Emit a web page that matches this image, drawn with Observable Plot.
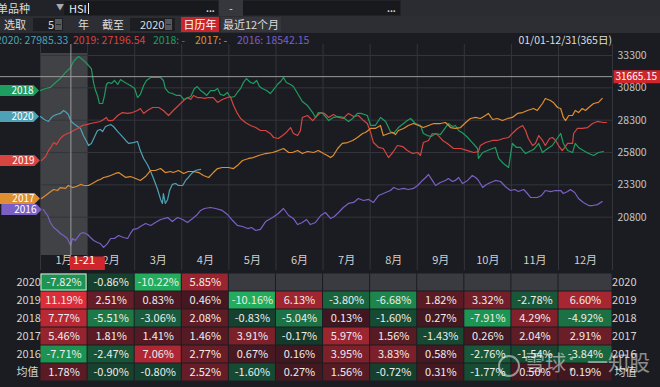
<!DOCTYPE html>
<html><head><meta charset="utf-8">
<script src="https://cdn.jsdelivr.net/npm/d3@7"></script>
<script src="https://cdn.jsdelivr.net/npm/@observablehq/plot@0.6"></script>
<style>
body{margin:0;background:#1b1c21;width:660px;height:387px;overflow:hidden;position:relative;font-family:"Noto Sans CJK SC","Noto Sans",sans-serif;}
.abs{position:absolute;white-space:nowrap;}
.t{font-size:11px;color:#dcdcdc;}
.spin{position:absolute;width:7px;height:11px;background:#56575c;}
.spin:after{content:"";position:absolute;left:1px;right:1px;top:5px;height:1px;background:#2a2b30;}
#chart,#table{position:absolute;left:0;}
#chart{top:44px;}#table{top:270px;}
</style></head><body>
<!-- row 1 -->
<div class="abs" style="left:0;top:0;width:660px;height:16px;background:#222328"></div>
<div class="abs" style="left:64px;top:1px;width:154px;height:14px;background:#18191d"></div>
<div class="abs" style="left:219px;top:0;width:24px;height:16px;background:#36373c"></div>
<div class="abs" style="left:243px;top:1px;width:157px;height:14px;background:#18191d"></div>
<div class="abs" style="left:401px;top:0;width:259px;height:16px;background:#2b2c31"></div>
<div class="abs t" style="left:-3px;top:0;line-height:16px">单品种</div>
<div class="abs t" style="left:56px;top:0;line-height:14px;font-size:8px;color:#aaa">▼</div>
<div class="abs t" style="left:69px;top:0;line-height:16px;color:#eee">HSI<span style="display:inline-block;width:1px;height:11px;background:#eee;margin-left:1px;vertical-align:-1px"></span></div>
<div class="abs t" style="left:206px;top:2px;line-height:14px;font-size:9px;font-weight:bold">...</div>
<div class="abs t" style="left:229px;top:0;line-height:16px">-</div>
<div class="abs t" style="left:387px;top:2px;line-height:14px;font-size:9px;font-weight:bold">...</div>
<!-- row 2 -->
<div class="abs" style="left:0;top:16px;width:660px;height:17px;background:#2d2e33"></div>
<div class="abs t" style="left:4px;top:16px;line-height:17px">选取</div>
<div class="abs" style="left:33px;top:18px;width:30px;height:13px;background:#1d1e22"></div>
<div class="abs t" style="left:48px;top:16px;line-height:17px">5</div>
<div class="spin" style="left:55px;top:19px"></div>
<div class="abs t" style="left:78px;top:16px;line-height:17px">年</div>
<div class="abs t" style="left:102px;top:16px;line-height:17px">截至</div>
<div class="abs" style="left:130px;top:18px;width:45px;height:13px;background:#1d1e22"></div>
<div class="abs t" style="left:140px;top:16px;line-height:17px">2020</div>
<div class="spin" style="left:165px;top:19px"></div>
<div class="abs t" style="left:181px;top:17px;width:38px;height:15px;line-height:15px;background:#c8252c;color:#fff;text-align:center">日历年</div>
<div class="abs t" style="left:221px;top:17px;width:60px;height:15px;line-height:15px;background:#35363b;text-align:center">最近12个月</div>
<!-- row 3 legend -->
<div class="abs" style="left:0;top:33px;width:660px;height:12px;background:#1b1c21"></div>
<div id="legend"></div>
<div id="chart"></div>
<div id="table"></div>
<!-- watermark -->
<div class="abs" style="left:498px;top:355px;width:18px;height:18px;border:2px solid rgba(255,255,255,0.5);border-radius:50%"></div>
<div class="abs" style="left:524px;top:347px;font-size:21px;line-height:28px;color:rgba(255,255,255,0.5)">雪球：一知股</div>
<script>
// ---------- data ----------
const months = ["1月","2月","3月","4月","5月","6月","7月","8月","9月","10月","11月","12月"];
const years = ["2020","2019","2018","2017","2016"];
const yearColors = ["#4fa2b6","#d8443f","#1f9c60","#df8e31","#7b5fc4"];
const legendValues = ["27985.33","27196.54","-","-","18542.15"];
const yTicks = [20800,23300,25800,28300,30800,33300];
const crossMonthT = 20/31;          // Jan 21
const crossLabel = "1-21";
const crossValue = 31665.15;
const selectedMonth = 0;
const rangeLabel = "01/01-12/31(365日)";

// [month position, index level]
const s2020 = [[0,28580],[.08,28350],[.17,28200],[.25,28580],[.34,28740],[.42,28820],[.49,29050],[.55,28890],[.59,28740],[.64,28270],[.70,28040],[.79,27810],[.85,27660],[.91,27110],[.98,26650],[1.02,26340],[1.08,26500],[1.15,27040],[1.21,27500],[1.27,27580],[1.32,27420],[1.38,27810],[1.49,27970],[1.55,27810],[1.64,27420],[1.72,27110],[1.81,26730],[1.87,26500],[1.97,26570],[2.06,26650],[2.12,25950],[2.19,25340],[2.27,24870],[2.34,24330],[2.40,23790],[2.48,23020],[2.55,22170],[2.59,21860],[2.61,22630],[2.65,21860],[2.70,22170],[2.74,22860],[2.80,23330],[2.87,23400],[2.93,23250],[3.02,23250],[3.08,23640],[3.14,23870],[3.21,24180],[3.29,24410],[3.40,24490]];
const s2019 = [[.02,25180],[.11,25490],[.17,25950],[.23,26260],[.28,26570],[.34,26420],[.42,26880],[.49,27110],[.57,27270],[.64,27350],[.70,27500],[.79,27660],[.89,27890],[1.00,27970],[1.06,28040],[1.17,28120],[1.27,28200],[1.34,28350],[1.40,28510],[1.44,28270],[1.53,28270],[1.64,28660],[1.74,28890],[1.85,28820],[1.95,28890],[2.06,29050],[2.12,29200],[2.19,28820],[2.27,29050],[2.38,29280],[2.51,29280],[2.61,29050],[2.72,28660],[2.82,29050],[2.93,29430],[3.04,29820],[3.12,30050],[3.19,29900],[3.25,30210],[3.33,30050],[3.40,30050],[3.48,29980],[3.57,30050],[3.67,30050],[3.76,29670],[3.86,29900],[3.97,30050],[4.03,30130],[4.10,29430],[4.18,28820],[4.25,28430],[4.35,28120],[4.46,27890],[4.57,27730],[4.67,27500],[4.78,27500],[4.88,27270],[4.95,26960],[5.05,26880],[5.14,27110],[5.22,27350],[5.31,27730],[5.37,27270],[5.46,27110],[5.52,27500],[5.56,28510],[5.67,28660],[5.78,28270],[5.88,28660],[5.95,28890],[6.03,28820],[6.12,28510],[6.22,28740],[6.33,28510],[6.43,28430],[6.54,28820],[6.65,28580],[6.75,28660],[6.86,28270],[6.94,28040],[7.01,27350],[7.07,26570],[7.18,26190],[7.28,26110],[7.39,25410],[7.48,25800],[7.58,26340],[7.69,26260],[7.79,25950],[7.90,25720],[8.01,25800],[8.07,25570],[8.13,26570],[8.24,26730],[8.32,27270],[8.43,27190],[8.54,26730],[8.64,26500],[8.77,26110],[8.92,26110],[9.07,25950],[9.20,25800],[9.30,25880],[9.34,26340],[9.45,26570],[9.60,26730],[9.70,26730],[9.83,26880],[9.94,26960],[10.04,27350],[10.13,27660],[10.24,27890],[10.30,27500],[10.36,26880],[10.45,26340],[10.51,26500],[10.58,27110],[10.66,26730],[10.72,26340],[10.81,26880],[10.87,26960],[10.94,26730],[11.00,26340],[11.07,25950],[11.17,26500],[11.26,26500],[11.28,27270],[11.35,27660],[11.44,27660],[11.54,27730],[11.63,28040],[11.72,28200],[11.83,28120],[11.89,28120]];
const s2018 = [[0,30590],[.11,30750],[.21,30830],[.32,31210],[.42,31520],[.53,31990],[.64,32370],[.70,32840],[.76,33070],[.81,33220],[.89,32990],[.96,32760],[1.02,32530],[1.08,32290],[1.13,31140],[1.17,30590],[1.21,30210],[1.25,29590],[1.32,29590],[1.36,30210],[1.40,31060],[1.44,31210],[1.51,31140],[1.57,31370],[1.64,31060],[1.70,31440],[1.76,31290],[1.83,31140],[1.91,30980],[2.00,30750],[2.06,30050],[2.12,30290],[2.19,30980],[2.25,31370],[2.34,31600],[2.44,31600],[2.55,31600],[2.61,31370],[2.65,30750],[2.72,30440],[2.80,30360],[2.89,30210],[2.97,30210],[3.04,29900],[3.10,29980],[3.19,30130],[3.27,30750],[3.33,30900],[3.40,30590],[3.46,30440],[3.53,30210],[3.61,30590],[3.70,30590],[3.76,30750],[3.82,30290],[3.89,30210],[3.97,30440],[4.03,30050],[4.12,30130],[4.18,30440],[4.25,30750],[4.31,31210],[4.37,31520],[4.46,31210],[4.52,31140],[4.59,31370],[4.65,30900],[4.71,30750],[4.80,30590],[4.88,30360],[4.97,30750],[5.03,31060],[5.10,31290],[5.16,31600],[5.22,31210],[5.31,31060],[5.37,30900],[5.46,30360],[5.56,29740],[5.67,29430],[5.78,28890],[5.84,28510],[5.90,28890],[5.99,28820],[6.05,28580],[6.12,28270],[6.22,28510],[6.33,28580],[6.43,28510],[6.54,28200],[6.63,28430],[6.73,28820],[6.80,28820],[6.88,28740],[6.94,28660],[7.01,27890],[7.11,27890],[7.22,28510],[7.33,28200],[7.43,27420],[7.50,27270],[7.60,27730],[7.71,28040],[7.79,28270],[7.86,28430],[7.96,28040],[8.07,27890],[8.13,27270],[8.22,27110],[8.30,27040],[8.39,27270],[8.49,27190],[8.60,27730],[8.66,28040],[8.75,27810],[8.81,27890],[8.88,27500],[8.98,27270],[9.07,26960],[9.17,26570],[9.28,26110],[9.30,25340],[9.39,25800],[9.49,25950],[9.60,26110],[9.66,26190],[9.73,25340],[9.83,24950],[9.94,24640],[10.02,26500],[10.11,26190],[10.19,26190],[10.30,25720],[10.38,25880],[10.47,26030],[10.51,26190],[10.58,26500],[10.66,25800],[10.77,26110],[10.87,26340],[10.94,26730],[11.04,27270],[11.09,26500],[11.17,25950],[11.26,25800],[11.31,26500],[11.37,26190],[11.46,25950],[11.56,25720],[11.65,25570],[11.74,25800],[11.83,25880]];
const s2017 = [[.02,22240],[.11,22480],[.19,22710],[.28,22940],[.36,22860],[.42,23090],[.53,23020],[.59,23250],[.68,23090],[.76,23170],[.85,23330],[.93,23250],[1.02,23250],[1.10,23400],[1.21,23640],[1.27,23710],[1.34,23870],[1.42,23940],[1.49,24020],[1.59,24180],[1.66,24250],[1.72,24100],[1.81,23870],[1.91,23940],[2.02,23790],[2.12,23640],[2.23,23940],[2.34,24410],[2.44,24410],[2.55,24560],[2.65,24250],[2.76,24330],[2.82,24250],[2.93,24410],[3.04,24180],[3.14,24330],[3.25,24330],[3.36,24250],[3.46,24020],[3.57,23870],[3.67,24250],[3.76,24560],[3.86,24640],[3.99,24640],[4.10,24560],[4.18,24790],[4.29,25180],[4.42,25340],[4.52,25410],[4.63,25570],[4.78,25720],[4.93,25800],[5.05,25950],[5.16,26110],[5.27,25800],[5.35,25800],[5.46,25950],[5.56,25720],[5.67,25880],[5.80,25800],[5.90,25950],[6.01,25720],[6.09,25570],[6.16,25410],[6.22,25570],[6.31,26110],[6.41,26500],[6.52,26570],[6.63,26730],[6.73,26960],[6.84,27270],[6.90,27350],[7.01,27660],[7.11,27660],[7.22,27890],[7.28,27110],[7.39,27270],[7.48,27350],[7.54,27190],[7.60,27500],[7.71,27660],[7.81,27890],[7.92,28040],[8.03,27890],[8.13,27730],[8.24,27890],[8.35,28040],[8.49,28040],[8.60,28120],[8.71,27730],[8.81,27660],[8.92,27730],[9.03,28120],[9.13,28430],[9.24,28510],[9.34,28430],[9.45,28660],[9.51,28820],[9.60,28350],[9.70,28430],[9.81,28270],[9.92,28430],[10.02,28510],[10.13,28820],[10.24,28890],[10.34,29050],[10.47,29200],[10.55,29050],[10.66,29590],[10.72,29980],[10.83,29820],[10.89,29670],[10.98,29280],[11.04,29200],[11.09,28510],[11.13,28270],[11.19,28660],[11.26,28660],[11.31,29050],[11.37,28890],[11.44,29200],[11.50,29050],[11.56,29280],[11.65,29590],[11.74,29670],[11.81,29980]];
const s2016 = [[.06,21390],[.15,20930],[.21,20390],[.28,20000],[.36,19770],[.42,19540],[.49,19380],[.57,19150],[.64,18610],[.68,19150],[.74,19000],[.85,19540],[.91,19610],[1.00,19460],[1.06,19230],[1.13,19000],[1.21,18840],[1.27,18760],[1.34,18460],[1.42,18760],[1.49,19150],[1.57,19150],[1.66,19380],[1.76,19230],[1.85,19150],[1.91,19540],[1.97,19850],[2.06,19920],[2.12,20080],[2.23,20310],[2.34,20160],[2.44,20390],[2.55,20620],[2.70,20770],[2.80,20460],[2.91,20770],[3.02,20620],[3.12,20390],[3.23,20700],[3.33,21010],[3.40,21320],[3.48,21470],[3.61,21550],[3.72,21470],[3.86,21320],[3.97,21010],[4.08,20540],[4.18,20160],[4.29,20080],[4.40,19920],[4.48,20000],[4.57,19770],[4.67,19850],[4.78,20460],[4.93,20770],[5.05,21080],[5.16,21470],[5.27,20930],[5.37,20700],[5.46,20230],[5.56,20390],[5.65,20620],[5.73,20230],[5.84,20390],[5.95,20930],[6.05,21160],[6.16,20700],[6.24,20850],[6.33,21160],[6.43,21550],[6.54,21860],[6.65,21940],[6.75,22240],[6.86,22090],[6.97,22170],[7.07,21940],[7.18,22480],[7.33,22710],[7.43,22860],[7.50,23090],[7.60,22940],[7.71,23020],[7.81,22940],[7.92,23020],[8.01,23250],[8.11,23640],[8.18,23870],[8.24,24100],[8.32,23640],[8.39,23250],[8.49,23480],[8.60,23640],[8.66,23790],[8.75,23560],[8.81,23640],[8.88,23870],[8.96,23400],[9.07,23640],[9.17,24020],[9.24,23870],[9.30,23640],[9.39,23090],[9.47,23330],[9.56,23480],[9.66,23640],[9.77,23560],[9.87,23170],[9.98,22860],[10.07,22940],[10.15,22780],[10.26,22940],[10.34,22630],[10.41,22320],[10.55,22320],[10.64,22480],[10.72,22860],[10.83,22780],[10.94,22860],[11.04,22860],[11.09,22630],[11.17,22780],[11.22,22940],[11.30,22710],[11.37,22240],[11.46,21930],[11.56,21700],[11.63,21700],[11.72,21770],[11.81,22010]];
const seriesPts = [s2020, s2019, s2018, s2017, s2016];

// monthly returns table (%)
const rowLabels = ["2020","2019","2018","2017","2016","均值"];
const r2020 = [-7.82,-0.86,-10.22,5.85,null,null,null,null,null,null,null,null];
const r2019 = [11.19,2.51,0.83,0.46,-10.16,6.13,-3.80,-6.68,1.82,3.32,-2.78,6.60];
const r2018 = [7.77,-5.51,-3.06,2.08,-0.83,-5.04,0.13,-1.60,0.27,-7.91,4.29,-4.92];
const r2017 = [5.46,1.81,1.41,1.46,3.91,-0.17,5.97,1.56,-1.43,0.26,2.04,2.91];
const r2016 = [-7.71,-2.47,7.06,2.77,0.67,0.16,3.95,3.83,0.58,-2.76,-1.54,-3.84];
const rMean = [1.78,-0.90,-0.80,2.52,-1.60,0.27,1.56,-0.72,0.31,-1.77,0.50,0.19];
const rowValues = [r2020, r2019, r2018, r2017, r2016, rMean];

// ---------- legend ----------
const legendPos = [-4, 73, 153, 195, 237];
const lg = document.getElementById("legend");
years.forEach((y,i)=>{
  const d = document.createElement("div");
  d.className = "abs";
  d.style.cssText = `left:${legendPos[i]}px;top:33px;line-height:13px;font-size:10.5px;color:${yearColors[i]}`;
  d.textContent = `${y}: ${legendValues[i]}`;
  lg.appendChild(d);
});
const rl = document.createElement("div");
rl.className = "abs";
rl.style.cssText = "right:48px;top:33px;line-height:13px;font-size:10.5px;color:#dedede";
rl.textContent = rangeLabel;
lg.appendChild(rl);

// ---------- chart ----------
const font = '"Noto Sans CJK SC","Noto Sans",sans-serif';
const lineData = years.flatMap((y,i)=>seriesPts[i].map(([t,v])=>({year:y,t,v})));
const starts = years.map((y,i)=>({year:y,t:seriesPts[i][0][0],v:seriesPts[i][0][1]}));
const tagShape = {draw(c){c.moveTo(-22,-5.5);c.lineTo(13,-5.5);c.lineTo(18.5,0);c.lineTo(13,5.5);c.lineTo(-22,5.5);c.closePath();}};
const priceShape = {draw(c){c.moveTo(1,-6.5);c.lineTo(48,-6.5);c.lineTo(48,6.5);c.lineTo(1,6.5);c.closePath();}};
const dateShape = {draw(c){c.moveTo(-1,1);c.lineTo(34,1);c.lineTo(34,15);c.lineTo(-1,15);c.closePath();}};
const xScale = {type:"linear", domain:[0,11,12], range:[40,558,612]};

const chart = Plot.plot({
  width:660, height:226, marginTop:9, marginBottom:15, marginLeft:40, marginRight:48,
  style:{background:"transparent", color:"#bdbdbd", fontFamily:font, overflow:"visible"},
  x:{...xScale, axis:null},
  y:{domain:[17836,33455], axis:null},
  color:{domain:years, range:yearColors},
  marks:[
    Plot.rect([selectedMonth],{x1:d=>d, x2:d=>d+1, fill:"#ffffff", fillOpacity:0.17}),
    Plot.ruleY(yTicks,{stroke:"#34353b", strokeWidth:1}),
    Plot.ruleX(d3.range(months.length+1),{stroke:"#34353b", strokeWidth:1, insetTop:-9, insetBottom:-15}),
    Plot.line(lineData,{x:"t", y:"v", z:"year", stroke:"year", strokeWidth:1.2}),
    Plot.ruleX([crossMonthT],{stroke:"#9a9a9a", strokeWidth:1, insetTop:-9}),
    Plot.ruleY([crossValue],{stroke:"#9a9a9a", strokeWidth:1, insetLeft:-40}),
    Plot.axisY(yTicks,{anchor:"right", tickSize:0, tickPadding:5, tickFormat:d=>String(d), fill:"#c4c4c4", fontSize:10.5, label:null}),
    Plot.text(months,{x:(d,i)=>i+0.5, text:d=>d, frameAnchor:"bottom", dy:8, fill:"#cfcfcf", fontSize:11}),
    Plot.dot([crossMonthT],{x:d=>d, frameAnchor:"bottom", symbol:dateShape, fill:"#cf262d", stroke:null}),
    Plot.text([crossMonthT],{x:d=>d, frameAnchor:"bottom", dy:8, dx:2, text:()=>crossLabel, textAnchor:"start", fill:"#ffffff", fontSize:11}),
    Plot.dot([crossValue],{y:d=>d, frameAnchor:"right", symbol:priceShape, fill:"#cf262d", stroke:null}),
    Plot.text([crossValue],{y:d=>d, frameAnchor:"right", dx:3, text:d=>d.toFixed(2), textAnchor:"start", fill:"#ffffff", fontSize:10}),
    Plot.dot(starts,{x:"t", y:"v", dx:-20, symbol:tagShape, fill:"year", stroke:null}),
    Plot.text(starts,{x:"t", y:"v", dx:-18, text:"year", fill:"#ffffff", fontSize:10})
  ]
});
document.getElementById("chart").appendChild(chart);

// ---------- table ----------
const cells = rowLabels.flatMap((r,ri)=>rowValues[ri].map((v,m)=>({row:r,m,v})));
const filled = cells.filter(d=>d.v!=null);
const empty = cells.filter(d=>d.v==null);
const table = Plot.plot({
  width:660, height:117, marginTop:2, marginBottom:5, marginLeft:40, marginRight:48,
  style:{background:"#1b1c21", color:"#d0d0d0", fontFamily:font},
  x:{...xScale, axis:null},
  y:{type:"band", domain:rowLabels, padding:0, axis:null},
  color:{type:"linear", domain:[-10,-0.001,0.001,10], range:["#21ad5d","#15372a","#3e1720","#dc2e3a"], clamp:true},
  marks:[
    Plot.barX(filled,{x1:"m", x2:d=>d.m+1, y:"row", fill:"v", inset:0.5}),
    Plot.barX(empty,{x1:"m", x2:d=>d.m+1, y:"row", fill:"#3a3b40", inset:0.5}),
    Plot.barX([{row:rowLabels[0], m:selectedMonth}],{x1:"m", x2:d=>d.m+1, y:"row", fill:"none", stroke:"#d6e6d8", strokeWidth:1, inset:1}),
    Plot.text(filled,{x:d=>d.m+0.5, y:"row", text:d=>d.v.toFixed(2)+"%", fill:"#ededed", fontSize:11}),
    Plot.text(rowLabels,{y:d=>d, frameAnchor:"left", dx:-24, text:d=>d, fill:"#d4d4d4", fontSize:11}),
    Plot.text(rowLabels,{y:d=>d, frameAnchor:"right", dx:24, text:d=>d, fill:"#d4d4d4", fontSize:11})
  ]
});
document.getElementById("table").appendChild(table);
</script>
</body></html>
